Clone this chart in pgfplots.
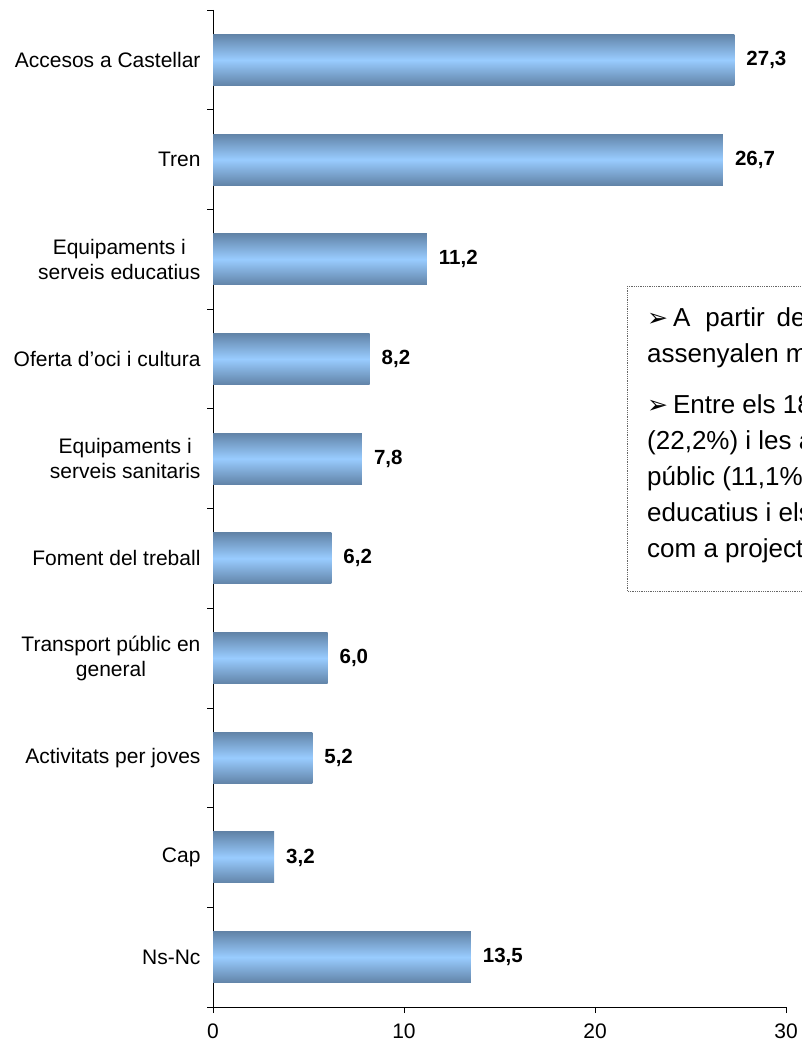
\documentclass[border=0pt]{standalone}
\usepackage{fontspec}
\setmainfont{Liberation Sans}
\newfontfamily\dejavu{DejaVu Sans}
\usepackage{pgfplots}
\pgfplotsset{compat=1.18}
\definecolor{baredge}{RGB}{98,132,168}
\definecolor{barmid}{RGB}{153,204,255}
\pgfplotsset{onebar/.style={draw=none, top color=baredge, bottom color=baredge, middle color=barmid}}
\begin{document}
\begin{tikzpicture}[x=1pt,y=1pt]
\begin{axis}[
  at={(213pt,36pt)}, anchor=south west,
  scale only axis, width=573pt, height=997pt,
  xmin=0, xmax=30, ymin=0.5, ymax=10.5,
  y dir=reverse,
  axis x line*=bottom, axis y line*=left,
  axis line style={black, line width=0.8pt},
  xtick={0,10,20,30},
  ytick={1,...,10},
  yticklabels={Accesos a Castellar, Tren, {Equipaments i\\serveis educatius}, Oferta d’oci i cultura, {Equipaments i\\serveis sanitaris}, Foment del treball, {Transport públic en\\general}, Activitats per joves, Cap, Ns-Nc},
  minor ytick={0.5,1.5,...,10.5},
  major y tick style={draw=none},
  minor y tick style={black, line width=0.8pt},
  major x tick style={black, line width=0.8pt},
  tick align=outside,
  major tick length=6pt, minor tick length=6pt,
  y tick label style={font=\fontsize{21}{25}\selectfont, align=center, anchor=east, xshift=-3pt},
  x tick label style={font=\fontsize{21}{25}\selectfont, yshift=-7pt},
  /pgf/number format/assume math mode=true,
  xbar, bar width=51pt, bar shift=0pt,
  nodes near coords={\pgfmathprintnumber[fixed, fixed zerofill, precision=1, use comma, assume math mode=true]{\pgfplotspointmeta}},
  nodes near coords style={font=\bfseries\fontsize{20.5}{24}\selectfont, anchor=west, xshift=8.5pt, black},
  clip=false,
]
\addplot[onebar] coordinates {(27.3,1)};
\addplot[onebar] coordinates {(26.7,2)};
\addplot[onebar] coordinates {(11.2,3)};
\addplot[onebar] coordinates {(8.2,4)};
\addplot[onebar] coordinates {(7.8,5)};
\addplot[onebar] coordinates {(6.2,6)};
\addplot[onebar] coordinates {(6.0,7)};
\addplot[onebar] coordinates {(5.2,8)};
\addplot[onebar] coordinates {(3.2,9)};
\addplot[onebar] coordinates {(13.5,10)};
\end{axis}
% text box
\draw[gray!80!black, densely dotted, line width=0.8pt] (627,757) rectangle (830,452);
\begin{scope}[every node/.style={anchor=base west, inner sep=0pt, font=\fontsize{26}{36}\selectfont}]
\node at (647,716) {{\dejavu\fontsize{25}{28}\selectfont ➢}\hspace{5pt}A\hspace{15pt}partir\hspace{12pt}de les respostes, els ciutadans};
\node at (647,680) {assenyalen majoritàriament els accessos};
\node at (647,629) {{\dejavu\fontsize{25}{28}\selectfont ➢}\hspace{5pt}Entre els 18 i 29 anys destaquen el tren};
\node at (647,593) {(22,2\%) i les activitats per a joves, el transport};
\node at (647,557) {públic (11,1\%), els equipaments i serveis};
\node at (647,521) {educatius i els accessos a Castellar};
\node at (647,485) {com a projectes prioritaris.};
\end{scope}
\pgfresetboundingbox
\useasboundingbox (0,0) rectangle (802,1043);
\end{tikzpicture}
\end{document}
